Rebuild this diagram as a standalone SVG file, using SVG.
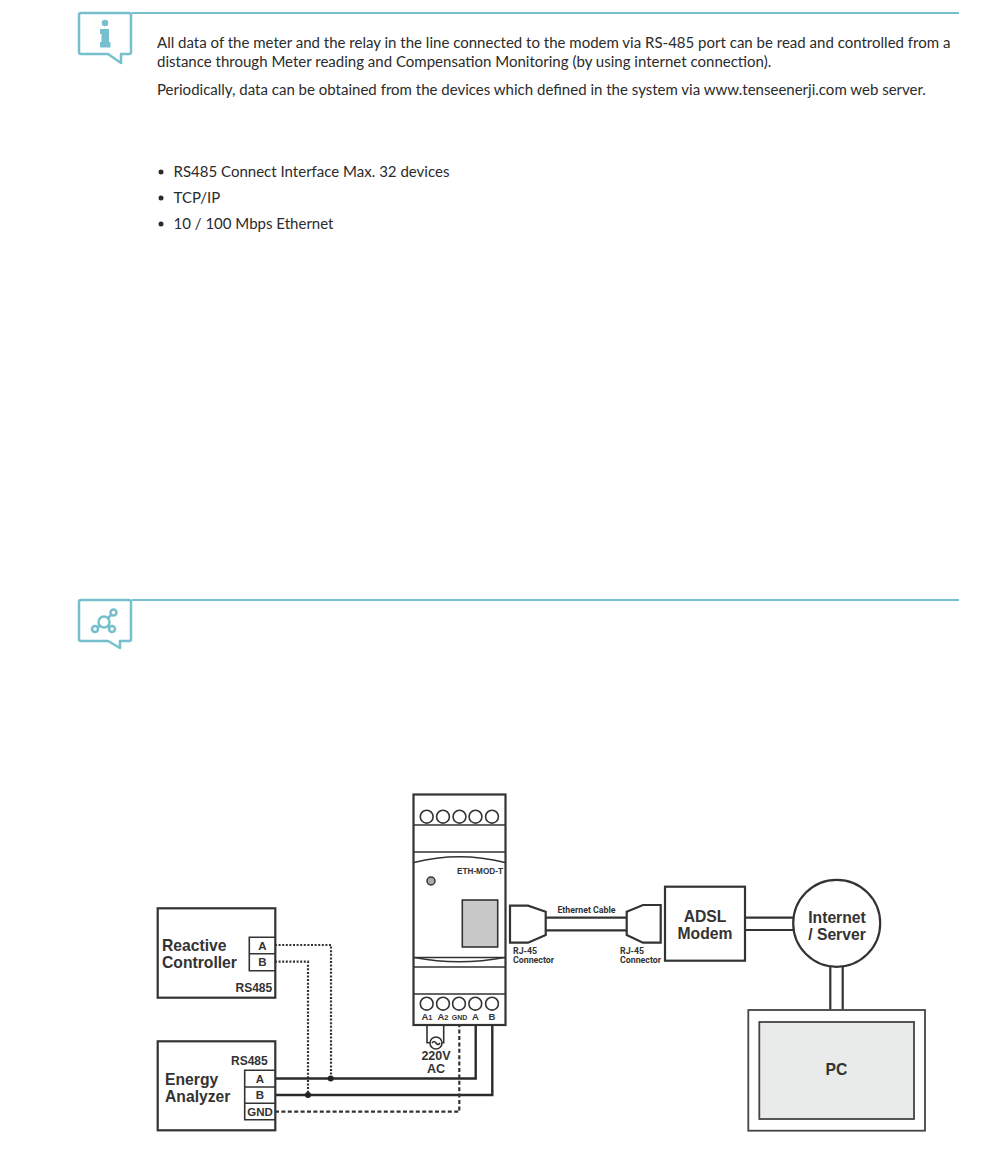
<svg xmlns="http://www.w3.org/2000/svg" width="1000" height="1160" viewBox="0 0 1000 1160">
<style>
.body{font-family:"Lato","Liberation Sans",sans-serif;font-size:15.03px;fill:#2b2b2b}
.lbl{font-family:"Liberation Sans",Arial,sans-serif;font-weight:700;fill:#333}
.big{font-size:15.7px}
.din{font-family:"Roboto","Liberation Sans",sans-serif;font-weight:700;font-size:8.8px;fill:#333}
.ln{fill:none;stroke:#333;stroke-width:2.2}
.th{fill:none;stroke:#333;stroke-width:1.6}
.tl{fill:none;stroke:#76c0cd;stroke-width:2.5;stroke-linejoin:round}
.w{fill:none;stroke:#2a2a2a;stroke-width:2.4}
.dot{fill:none;stroke:#333;stroke-width:2.2;stroke-dasharray:2 1.6}
.dash{fill:none;stroke:#333;stroke-width:2.2;stroke-dasharray:4 2.4}
</style>
<g id="info-note">
<path class="tl" d="M81 13H129Q131 13 131 15V52Q131 54 129 54H121V63L108 54H81Q79 54 79 52V15Q79 13 81 13Z"/>
<path d="M132 13H959" stroke="#76c0cd" stroke-width="2" fill="none"/>
<circle cx="105" cy="23" r="3.300" fill="#76c0cd"/>
<path d="M100 29H109V42H110.500V47.500H100V42H101.500V34H100Z" fill="#76c0cd"/>
<text class="body" x="157" y="47.700">All data of the meter and the relay in the line connected to the modem via RS-485 port can be read and controlled from a</text>
<text class="body" x="157" y="66.700">distance through Meter reading and Compensation Monitoring (by using internet connection).</text>
<text class="body" x="157" y="94.700">Periodically, data can be obtained from the devices which defined in the system via www.tenseenerji.com web server.</text>
</g>
<g id="feature-list">
<circle cx="161" cy="172" r="2.500" fill="#2b2b2b"/>
<circle cx="161" cy="198" r="2.500" fill="#2b2b2b"/>
<circle cx="161" cy="224" r="2.500" fill="#2b2b2b"/>
<text class="body" x="173.500" y="176.700">RS485 Connect Interface Max. 32 devices</text>
<text class="body" x="173.500" y="202.700">TCP/IP</text>
<text class="body" x="173.500" y="228.700">10 / 100 Mbps Ethernet</text>
</g>
<g id="diagram-note">
<path class="tl" d="M81 600H129Q131 600 131 602V639Q131 641 129 641H120V648L108 641H81Q79 641 79 639V602Q79 600 81 600Z"/>
<path d="M132 600H959" stroke="#76c0cd" stroke-width="2" fill="none"/>
<g fill="none" stroke="#76c0cd" stroke-width="2.500">
<circle cx="104" cy="622" r="5.500"/><circle cx="113.500" cy="612.500" r="3"/><circle cx="95" cy="629" r="3"/><circle cx="112" cy="629" r="3"/>
<path d="M108 618L111 615M99.500 626L97.500 627.500M108 626L109.500 627.500"/>
</g>
</g>
<g id="connectors">
<path class="dot" d="M275 945H331V1078M275 961.700H308V1095"/>
<path class="w" d="M275 1078.500H475.700V1025M275 1095H492.300V1025"/>
<path class="dash" d="M275 1111.700H459.300V1026"/>
<circle cx="330.700" cy="1078.500" r="3" fill="#222"/>
<circle cx="308" cy="1095" r="3" fill="#222"/>
<path class="th" d="M427 1025V1042.700H430M443.700 1025V1042.700H442"/>
<path class="ln" d="M546 917.700H627M546 930.300H627M745 917.700H793M745 930H793M830.300 966V1010M842.700 966V1010"/>
</g>
<g id="reactive-controller">
<rect class="ln" x="157.700" y="908.300" width="117.600" height="89.400" fill="#fff"/>
<path class="th" d="M275 937.300H249.300V970.700H275M249.300 953.700H275"/>
<text class="lbl big" x="162" y="950.500">Reactive</text>
<text class="lbl big" x="162" y="967.500">Controller</text>
<text class="lbl" x="262.500" y="950" font-size="11.500" text-anchor="middle">A</text>
<text class="lbl" x="262.500" y="966" font-size="11.500" text-anchor="middle">B</text>
<text class="lbl" x="235.500" y="992" font-size="12">RS485</text>
</g>
<g id="energy-analyzer">
<rect class="ln" x="157.700" y="1041.300" width="117.600" height="89" fill="#fff"/>
<path class="th" d="M275 1070.300H244.700V1119.700H275M244.700 1087H275M244.700 1103.300H275"/>
<text class="lbl big" x="165" y="1084.500">Energy</text>
<text class="lbl big" x="165" y="1101.500">Analyzer</text>
<text class="lbl" x="231" y="1065" font-size="12">RS485</text>
<text class="lbl" x="260" y="1083" font-size="11.500" text-anchor="middle">A</text>
<text class="lbl" x="260" y="1099" font-size="11.500" text-anchor="middle">B</text>
<text class="lbl" x="260" y="1116" font-size="11.500" text-anchor="middle">GND</text>
</g>
<g id="eth-mod-t">
<rect class="ln" x="413.500" y="794.500" width="92" height="230.500" fill="#fff"/>
<path class="th" d="M414 825H505M414 852H505M414 967H505M414 994H505"/>
<path class="th" d="M414 862.500Q459 851 505 862.500M414 957.500H505" stroke-width="1.200"/>
<path class="th" d="M414 957.500Q459 966 505 957.500" stroke-width="1.200"/>
<g class="th"><circle cx="426.700" cy="816.700" r="6.400"/><circle cx="443" cy="816.700" r="6.400"/><circle cx="459.500" cy="816.700" r="6.400"/><circle cx="475.500" cy="816.700" r="6.400"/><circle cx="492" cy="816.700" r="6.400"/>
<circle cx="426.700" cy="1003.700" r="6.400"/><circle cx="443" cy="1003.700" r="6.400"/><circle cx="459" cy="1003.700" r="6.400"/><circle cx="475.300" cy="1003.700" r="6.400"/><circle cx="492" cy="1003.700" r="6.400"/></g>
<circle cx="431" cy="881" r="4" fill="#aaa" stroke="#333" stroke-width="1.500"/>
<rect x="462.300" y="900" width="35.400" height="47" fill="#c8c8c8" stroke="#333" stroke-width="1.600"/>
<text class="lbl" x="457" y="874" font-size="8.200">ETH-MOD-T</text>
<text class="lbl" x="427" y="1020" font-size="9.500" text-anchor="middle">A<tspan font-size="7.500">1</tspan></text>
<text class="lbl" x="443" y="1020" font-size="9.500" text-anchor="middle">A<tspan font-size="7.500">2</tspan></text>
<text class="lbl" x="459.500" y="1020" font-size="7" text-anchor="middle">GND</text>
<text class="lbl" x="475.500" y="1020" font-size="9.500" text-anchor="middle">A</text>
<text class="lbl" x="492" y="1020" font-size="9.500" text-anchor="middle">B</text>
</g>
<g id="ac-supply">
<circle class="th" cx="436" cy="1043" r="6" fill="#fff"/>
<path class="th" d="M432 1043Q434 1040 436 1043T440 1043" stroke-width="1.200"/>
<text class="lbl" x="436" y="1060" font-size="12.500" text-anchor="middle">220V</text>
<text class="lbl" x="436" y="1073" font-size="12.500" text-anchor="middle">AC</text>
</g>
<g id="rj45-left">
<path class="ln" d="M510 905.700H528L545.700 911.700V935L528 942.700H510Z" fill="#fff"/>
<text class="din" x="513" y="954">RJ-45</text>
<text class="din" x="513" y="963">Connector</text>
</g>
<g id="ethernet-cable">
<text class="din" x="586.500" y="913" text-anchor="middle">Ethernet Cable</text>
</g>
<g id="rj45-right">
<path class="ln" d="M660.700 905H643L626.700 911.700V935L643 942.700H660.700Z" fill="#fff"/>
<text class="din" x="620" y="954">RJ-45</text>
<text class="din" x="620" y="963">Connector</text>
</g>
<g id="adsl-modem">
<rect class="ln" x="665" y="886.700" width="80" height="74" fill="#fff"/>
<text class="lbl big" x="705" y="921.500" text-anchor="middle">ADSL</text>
<text class="lbl big" x="705" y="938.500" text-anchor="middle">Modem</text>
</g>
<g id="internet-server">
<circle class="ln" cx="836.700" cy="923.300" r="43.500" fill="#fff"/>
<text class="lbl big" x="837" y="922.500" text-anchor="middle">Internet</text>
<text class="lbl big" x="837" y="939.500" text-anchor="middle">/ Server</text>
</g>
<g id="pc">
<rect x="748.300" y="1010" width="176.700" height="120.700" fill="#fff" stroke="#444" stroke-width="1.800"/>
<rect x="759.300" y="1022" width="154.700" height="97" fill="#e9ebea" stroke="#444" stroke-width="1.800"/>
<text class="lbl big" x="836.500" y="1074.500" text-anchor="middle">PC</text>
</g>
</svg>
